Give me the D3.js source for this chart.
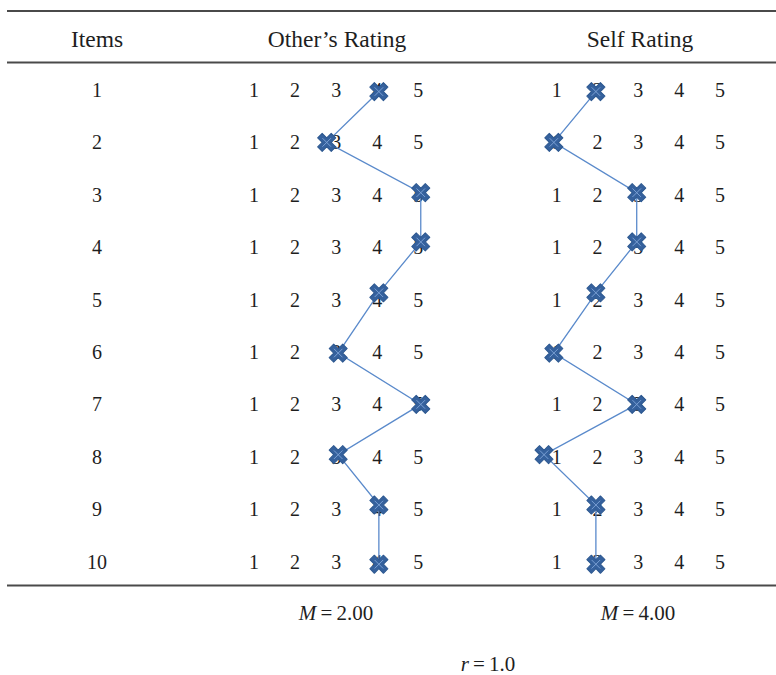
<!DOCTYPE html>
<html>
<head>
<meta charset="utf-8">
<script src="https://cdn.jsdelivr.net/npm/d3@7"></script>
<style>
  html, body { margin: 0; padding: 0; background: #fff; }
  svg { display: block; }
  text { font-family: "Liberation Serif", "Times New Roman", serif; fill: #1e1e1e; }
</style>
</head>
<body>
<script>
// ---- data ----
const items = [1, 2, 3, 4, 5, 6, 7, 8, 9, 10];
const scaleLabels = [1, 2, 3, 4, 5];
const headers = ["Items", "Other\u2019s Rating", "Self Rating"];
// ratings (position of the cross on each 1-5 scale)
const otherRatings = [4.04, 2.77, 5.06, 5.06, 4.04, 3.05, 5.06, 3.05, 4.04, 4.04];
const selfRatings  = [1.96, 0.93, 2.96, 2.96, 1.96, 0.93, 2.96, 0.69, 1.96, 1.96];
// vertical placement of each cross, in row units
const markerRows = [1.03, 2.0, 2.96, 3.9, 4.87, 6.02, 7.0, 7.96, 8.92, 10.05];
const means = ["2.00", "4.00"];
const corr = "1.0";

// ---- layout ----
const W = 776, H = 675;
const svg = d3.select("body").append("svg").attr("width", W).attr("height", H);

const yRow = d3.scaleLinear().domain([1, 10]).range([90, 561.6]);
const xOther = d3.scaleLinear().domain([1, 5]).range([254, 418.3]);
const xSelf = d3.scaleLinear().domain([1, 5]).range([556.7, 720]);
const xItems = 97;

// rules
const rules = [11, 62.5, 585.5];
svg.selectAll("line.rule").data(rules).enter().append("line")
  .attr("class", "rule")
  .attr("x1", 7).attr("x2", W)
  .attr("y1", d => d).attr("y2", d => d)
  .attr("stroke", "#4a4a4a").attr("stroke-width", 2.2);

// headers
const headerX = [97, 337, 640];
svg.selectAll("text.hdr").data(headers).enter().append("text")
  .attr("class", "hdr")
  .attr("x", (d, i) => headerX[i]).attr("y", 46.5)
  .attr("text-anchor", "middle")
  .style("font-size", "23.5px")
  .text(d => d);

// item numbers
svg.selectAll("text.item").data(items).enter().append("text")
  .attr("class", "item")
  .attr("x", xItems).attr("y", d => yRow(d) + 7)
  .attr("text-anchor", "middle")
  .style("font-size", "20px")
  .text(d => d);

// scale digits per row
function drawScale(x, cls) {
  const g = svg.append("g");
  items.forEach(it => {
    g.selectAll(null).data(scaleLabels).enter().append("text")
      .attr("class", cls)
      .attr("x", d => x(d)).attr("y", yRow(it) + 7)
      .attr("text-anchor", "middle")
      .style("font-size", "20px")
      .text(d => d);
  });
}
drawScale(xOther, "sc-o");
drawScale(xSelf, "sc-s");

// connectors + markers
const crossPath = d3.symbol().type(d3.symbolCross).size(205)();
function drawSeries(vals, x) {
  const pts = vals.map((v, i) => [x(v), yRow(markerRows[i])]);
  svg.append("path")
    .attr("d", d3.line()(pts))
    .attr("fill", "none")
    .attr("stroke", "#5a8acb")
    .attr("stroke-width", 1.3);
  const m = svg.append("g").selectAll("g").data(pts).enter().append("g")
    .attr("transform", d => `translate(${d[0]},${d[1]}) rotate(45)`);
  m.append("path")
    .attr("d", crossPath)
    .attr("fill", "#35619d")
    .attr("stroke", "#2d5890")
    .attr("stroke-width", 1)
    .attr("stroke-linejoin", "round");
  m.append("path")
    .attr("d", "M-6,0L6,0M0,-6L0,6")
    .attr("stroke", "#7ea3d6")
    .attr("stroke-width", 0.9);
}
drawSeries(otherRatings, xOther);
drawSeries(selfRatings, xSelf);

// means
const meanX = [336, 638];
means.forEach((m, i) => {
  const t = svg.append("text")
    .attr("x", meanX[i]).attr("y", 620)
    .attr("text-anchor", "middle")
    .style("font-size", "21px");
  t.append("tspan").style("font-style", "italic").text("M");
  t.append("tspan").text("\u2009=\u2009" + m);
});

// correlation
const rt = svg.append("text")
  .attr("x", 488).attr("y", 671)
  .attr("text-anchor", "middle")
  .style("font-size", "21px");
rt.append("tspan").style("font-style", "italic").text("r");
rt.append("tspan").text("\u2009=\u2009" + corr);
</script>
</body>
</html>
